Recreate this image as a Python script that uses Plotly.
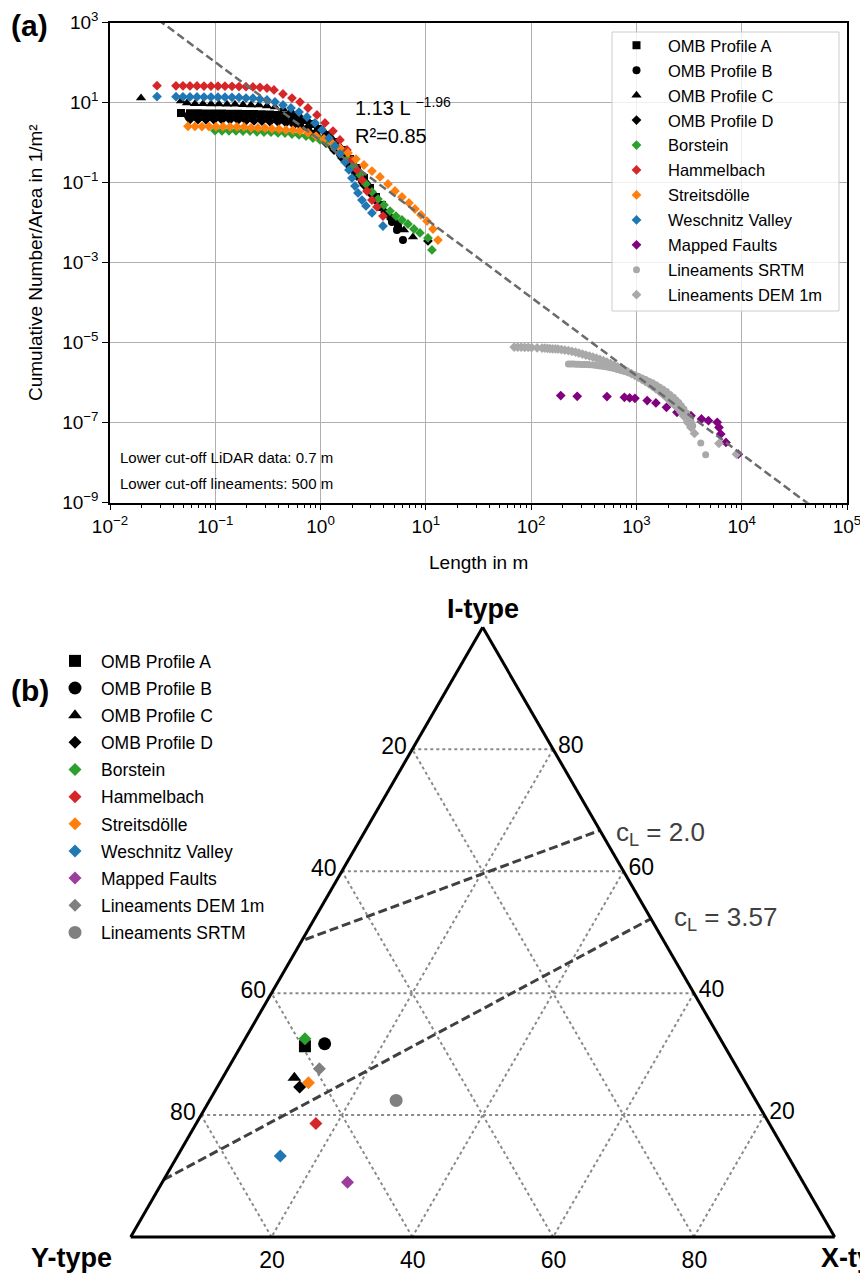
import plotly.graph_objects as go

# The page body adds an 8 px offset, so the figure is drawn 8 px smaller and
# every layout position below is given in window pixels minus that offset.
OFF = 8
W, H = 868 - OFF, 1284 - OFF
FONT = "Liberation Sans, Arial, Helvetica, sans-serif"


def px(x):
    return (x - OFF) / W


def py(y):
    return 1 - (y - OFF) / H


# ---------------- panel (a): cumulative number / area vs length ----------------
OMB_A_L = [0.04723, 0.05750, 0.06850, 0.08159, 0.09721, 0.1158, 0.1379, 0.1643, 0.1957, 0.2331,
           0.2776, 0.3307, 0.3939, 0.4692, 0.5590, 0.6660, 0.7931, 0.9447, 1.125, 1.341,
           1.597, 1.902, 2.217, 2.584, 2.945, 3.359, 3.830, 4.368, 4.872, 5.433]
OMB_A_N = [5.53, 5.45, 5.42, 5.40, 5.37, 5.34, 5.31, 5.28, 5.25, 5.22,
           5.15, 5.08, 4.95, 4.80, 4.39, 3.69, 2.93, 2.20, 1.56, 1.04,
           0.657, 0.391, 0.233, 0.131, 0.0737, 0.0439, 0.0277, 0.0175, 0.0117, 0.00781]

OMB_B_L = [0.05504, 0.06556, 0.07810, 0.09305, 0.1108, 0.1320, 0.1573, 0.1874, 0.2231, 0.2658,
           0.3166, 0.3771, 0.4492, 0.5351, 0.6375, 0.7594, 0.9042, 1.077, 1.283, 1.528,
           1.821, 2.122, 2.473, 2.819, 3.216, 3.666, 4.179, 4.766, 5.315, 6.061]
OMB_B_N = [4.75, 4.72, 4.69, 4.66, 4.63, 4.60, 4.57, 4.45, 4.41, 4.37,
           4.20, 4.12, 3.91, 3.49, 2.93, 2.33, 1.75, 1.24, 0.827, 0.522,
           0.311, 0.185, 0.110, 0.0657, 0.0391, 0.0247, 0.0165, 0.0104, 0.00657, 0.00369]

OMB_C_L = [0.01970, 0.04723, 0.05385, 0.06414, 0.07640, 0.09104, 0.1084, 0.1292, 0.1539, 0.1833,
           0.2183, 0.2600, 0.3097, 0.3690, 0.4394, 0.5235, 0.6236, 0.7430, 0.8846, 1.054,
           1.255, 1.495, 1.781, 2.076, 2.420, 2.819, 3.287, 3.830, 4.464, 5.200, 6.194, 7.543]
OMB_C_N = [13.11, 11.03, 9.83, 9.40, 9.35, 9.30, 9.25, 9.20, 9.15, 8.85,
           8.78, 8.70, 8.27, 7.81, 6.96, 6.20, 4.93, 3.91, 2.93, 2.08,
           1.39, 0.876, 0.493, 0.293, 0.165, 0.0928, 0.0493, 0.0277, 0.0165, 0.0104, 0.00657, 0.00439]

OMB_D_L = [0.05750, 0.06850, 0.08159, 0.09721, 0.1158, 0.1379, 0.1643, 0.1957, 0.2331, 0.2776,
           0.3307, 0.3939, 0.4692, 0.5590, 0.6660, 0.7931, 0.9447, 1.125, 1.341, 1.597,
           1.902, 2.217, 2.584, 3.010, 3.509, 4.089, 4.664, 5.433, 10.47]
OMB_D_N = [3.78, 3.76, 3.74, 3.72, 3.70, 3.68, 3.66, 3.52, 3.49, 3.46,
           3.32, 3.27, 3.11, 2.77, 2.33, 1.85, 1.39, 0.983, 0.657, 0.415,
           0.247, 0.147, 0.0876, 0.0522, 0.0311, 0.0185, 0.0124, 0.00737, 0.00349]

BORSTEIN_L = [0.09936, 0.1158, 0.1349, 0.1573, 0.1833, 0.2136, 0.2489, 0.2901, 0.3381, 0.3939,
              0.4591, 0.5351, 0.6236, 0.7269, 0.8470, 0.9870, 1.150, 1.341, 1.562, 1.821,
              2.076, 2.367, 2.699, 3.077, 3.509, 4.000, 4.563, 5.200, 5.929, 6.761,
              7.709, 8.790, 10.47, 11.43]
BORSTEIN_N = [2.00, 1.99, 1.98, 1.97, 1.96, 1.95, 1.87, 1.85, 1.83, 1.76,
              1.74, 1.65, 1.56, 1.47, 1.31, 1.17, 0.983, 0.781, 0.585, 0.391,
              0.262, 0.156, 0.0928, 0.0586, 0.0391, 0.0277, 0.0196, 0.0147, 0.0117, 0.00928,
              0.00696, 0.00553, 0.00415, 0.00208]

HAMMELBACH_L = [0.02795, 0.04234, 0.04934, 0.05750, 0.06701, 0.07810, 0.09104, 0.1061, 0.1236, 0.1441,
                0.1679, 0.1957, 0.2280, 0.2658, 0.3097, 0.3610, 0.4394, 0.5351, 0.6375, 0.7594,
                0.9243, 1.101, 1.312, 1.528, 1.781, 1.987, 2.217, 2.473, 2.758, 3.077,
                3.433, 3.915]
HAMMELBACH_N = [26.6, 26.5, 26.4, 26.3, 26.2, 26.1, 26.0, 25.9, 25.8, 25.6,
                25.4, 25.2, 24.7, 24.3, 23.3, 20.8, 16.5, 13.1, 10.4, 7.37,
                4.93, 3.11, 1.96, 1.17, 0.657, 0.369, 0.208, 0.117, 0.0620, 0.0369,
                0.0247, 0.0147]

STREITS_L = [0.05504, 0.06414, 0.07475, 0.08712, 0.1015, 0.1183, 0.1379, 0.1607, 0.1874, 0.2183,
             0.2544, 0.2965, 0.3455, 0.4026, 0.4692, 0.5469, 0.6375, 0.7594, 0.9042, 1.077,
             1.283, 1.528, 1.821, 2.169, 2.584, 3.077, 3.666, 4.368, 5.089, 5.929,
             6.910, 7.880, 8.984, 10.24, 11.68, 13.03]
STREITS_N = [2.56, 2.55, 2.54, 2.53, 2.52, 2.51, 2.50, 2.49, 2.48, 2.36,
             2.34, 2.32, 2.22, 2.19, 2.09, 2.07, 1.96, 1.75, 1.47, 1.24,
             0.983, 0.737, 0.553, 0.391, 0.277, 0.196, 0.139, 0.0928, 0.0620, 0.0439,
             0.0311, 0.0220, 0.0156, 0.0110, 0.00696, 0.00369]

WESCHNITZ_L = [0.02795, 0.04234, 0.04934, 0.05750, 0.06701, 0.07810, 0.09104, 0.1061, 0.1236, 0.1441,
               0.1679, 0.1957, 0.2280, 0.2658, 0.3097, 0.3690, 0.4394, 0.5235, 0.6236, 0.7430,
               0.8846, 1.031, 1.202, 1.370, 1.528, 1.705, 1.861, 1.987, 2.122, 2.266,
               2.473, 2.699, 3.077, 3.915]
WESCHNITZ_N = [14.2, 14.1, 14.0, 13.95, 13.9, 13.85, 13.8, 13.75, 13.7, 13.6,
               13.5, 13.1, 13.0, 12.37, 11.68, 10.41, 8.76, 7.37, 5.85, 4.39,
               3.11, 2.08, 1.31, 0.827, 0.522, 0.329, 0.208, 0.131, 0.0827, 0.0553,
               0.0369, 0.0262, 0.0175, 0.00827]

FAULTS_L = [191, 274, 525, 769, 863, 968, 1266, 1532, 1928, 2426,
            3296, 4149, 4833, 5851, 6081, 6321, 7087, 9268]
FAULTS_N = [4.76e-7, 4.58e-7, 4.50e-7, 4.32e-7, 4.16e-7, 4.08e-7, 3.57e-7, 3.12e-7, 2.43e-7, 1.82e-7,
            1.50e-7, 1.24e-7, 1.12e-7, 1.02e-7, 7.63e-8, 5.19e-8, 3.21e-8, 1.63e-8]

SRTM_L = [226, 240, 254, 269, 284, 301, 319, 338, 358, 387, 417, 450, 486, 525, 566, 612, 660,
          712, 769, 831, 897, 968, 1045, 1128, 1218, 1315, 1420, 1532, 1654, 1786, 1928, 2081,
          2247, 2380, 2520, 2670, 2828, 3000, 3172, 3300, 3424, 4083, 4545]
SRTM_N = [2.95e-6, 2.93e-6, 2.92e-6, 2.90e-6, 2.89e-6, 2.87e-6, 2.86e-6, 2.84e-6, 2.82e-6, 2.76e-6,
          2.70e-6, 2.63e-6, 2.55e-6, 2.46e-6, 2.36e-6, 2.25e-6, 2.14e-6, 2.02e-6, 1.91e-6, 1.79e-6,
          1.67e-6, 1.55e-6, 1.43e-6, 1.31e-6, 1.20e-6, 1.09e-6, 9.90e-7, 8.85e-7, 7.86e-7, 6.90e-7,
          6.00e-7, 5.10e-7, 4.33e-7, 3.72e-7, 3.18e-7, 2.65e-7, 2.20e-7, 1.75e-7, 1.36e-7, 1.08e-7,
          8.41e-8, 3.09e-8, 1.57e-8]

DEM_L = [69.0, 74.5, 80.4, 86.8, 93.7, 101, 114, 127, 135, 143, 151, 160, 170,
         180, 194, 209, 226, 244, 264, 284, 307, 331, 358, 386, 417, 450, 486, 525, 567, 612, 661, 713,
         770, 831, 898, 968, 1045, 1128, 1218, 1315, 1420, 1532, 1655, 1786, 1895, 2004, 2120, 2247,
         2380, 2520, 2670, 2828, 3052, 3296, 3557, 6080, 8916]
DEM_N = [7.80e-6, 7.75e-6, 7.70e-6, 7.65e-6, 7.60e-6, 7.55e-6, 7.45e-6, 7.35e-6, 7.28e-6, 7.20e-6,
         7.12e-6, 7.05e-6, 7.00e-6,
         6.94e-6, 6.75e-6, 6.54e-6, 6.30e-6, 6.06e-6, 5.78e-6, 5.50e-6, 5.20e-6, 4.90e-6, 4.63e-6,
         4.37e-6, 4.09e-6, 3.82e-6, 3.54e-6, 3.27e-6, 3.00e-6, 2.75e-6, 2.50e-6, 2.27e-6,
         2.06e-6, 1.87e-6, 1.68e-6, 1.51e-6, 1.35e-6, 1.20e-6, 1.06e-6, 9.35e-7, 8.10e-7, 7.00e-7,
         6.00e-7, 5.14e-7, 4.50e-7, 3.93e-7, 3.40e-7, 2.94e-7,
         2.55e-7, 2.20e-7, 1.80e-7, 1.44e-7, 1.02e-7, 7.63e-8, 5.40e-8, 3.03e-8, 1.63e-8]

# power-law fit N = 1.13 * L^-1.96
FIT_COEF = 1.13
FIT_EXP = -1.96
FIT_L = [0.01, 1.0e5]

X_TICK_EXP = list(range(-2, 6))
Y_TICK_EXP = list(range(-9, 4, 2))

# ---------------- panel (b): ternary node proportions (percent) ----------------
TERN_NAMES = ["OMB Profile A", "OMB Profile B", "OMB Profile C", "OMB Profile D", "Borstein",
              "Hammelbach", "Streitsdölle", "Weschnitz Valley", "Mapped Faults",
              "Lineaments DEM 1m", "Lineaments SRTM"]
TERN_I = [31.3, 31.7, 26.1, 24.6, 32.5, 18.6, 25.3, 13.3, 9.0, 27.6, 22.4]
TERN_Y = [59.6, 56.6, 63.7, 63.7, 59.0, 64.4, 62.1, 72.1, 64.7, 59.4, 51.1]
TERN_X = [9.1, 11.7, 10.2, 11.7, 8.5, 17.0, 12.6, 14.6, 26.3, 13.0, 26.5]

CL20_I = [48.8, 66.7]
CL20_Y = [50.8, 0.0]
CL20_X = [0.4, 33.3]
CL357_I = [9.4, 52.2]
CL357_Y = [90.6, 0.0]
CL357_X = [0.0, 47.8]

TERN_TICKS = [20, 40, 60, 80]

# ---------------- styles ----------------
STYLE_A = {
    "OMB Profile A": ("square", "black", 8),
    "OMB Profile B": ("circle", "black", 8),
    "OMB Profile C": ("triangle-up", "black", 9),
    "OMB Profile D": ("diamond", "black", 7.5),
    "Borstein": ("diamond", "#2ca02c", 7.5),
    "Hammelbach": ("diamond", "#d62728", 7.5),
    "Streitsdölle": ("diamond", "#ff7f0e", 7.5),
    "Weschnitz Valley": ("diamond", "#1f77b4", 7.5),
    "Mapped Faults": ("diamond", "#800080", 7.5),
    "Lineaments SRTM": ("circle", "#a9a9a9", 7),
    "Lineaments DEM 1m": ("diamond", "#a9a9a9", 7.5),
}
STYLE_B = {
    "OMB Profile A": ("square", "black", 12),
    "OMB Profile B": ("circle", "black", 13),
    "OMB Profile C": ("triangle-up", "black", 12),
    "OMB Profile D": ("diamond", "black", 10),
    "Borstein": ("diamond", "#2ca02c", 10),
    "Hammelbach": ("diamond", "#d62728", 10),
    "Streitsdölle": ("diamond", "#ff7f0e", 10),
    "Weschnitz Valley": ("diamond", "#1f77b4", 10),
    "Mapped Faults": ("diamond", "#9c3d9c", 10),
    "Lineaments DEM 1m": ("diamond", "#808080", 10),
    "Lineaments SRTM": ("circle", "#808080", 13),
}

SERIES_A = [
    ("OMB Profile A", OMB_A_L, OMB_A_N),
    ("OMB Profile B", OMB_B_L, OMB_B_N),
    ("OMB Profile C", OMB_C_L, OMB_C_N),
    ("OMB Profile D", OMB_D_L, OMB_D_N),
    ("Borstein", BORSTEIN_L, BORSTEIN_N),
    ("Hammelbach", HAMMELBACH_L, HAMMELBACH_N),
    ("Streitsdölle", STREITS_L, STREITS_N),
    ("Weschnitz Valley", WESCHNITZ_L, WESCHNITZ_N),
    ("Mapped Faults", FAULTS_L, FAULTS_N),
    ("Lineaments SRTM", SRTM_L, SRTM_N),
    ("Lineaments DEM 1m", DEM_L, DEM_N),
]

fig = go.Figure()

for k, (name, L, N) in enumerate(SERIES_A):
    sym, col, size = STYLE_A[name]
    fig.add_trace(go.Scatter(
        x=L, y=N, mode="markers", name=name,
        marker=dict(symbol=sym, color=col, size=size, line=dict(width=0)),
        xaxis="x", yaxis="y", legend="legend", legendgroup="a%d" % k,
    ))

fig.add_trace(go.Scatter(
    x=FIT_L, y=[FIT_COEF * l ** FIT_EXP for l in FIT_L], mode="lines",
    line=dict(color="#6b6b6b", width=2.5, dash="8px,4px"),
    showlegend=False, xaxis="x", yaxis="y", hoverinfo="skip",
))

# ternary reference lines
for I, Y, X in [(CL20_I, CL20_Y, CL20_X), (CL357_I, CL357_Y, CL357_X)]:
    fig.add_trace(go.Scatterternary(
        a=I, b=Y, c=X, mode="lines",
        line=dict(color="#404040", width=3, dash="9px,4px"),
        showlegend=False, subplot="ternary", hoverinfo="skip",
    ))

for k, name in enumerate(TERN_NAMES):
    sym, col, size = STYLE_B[name]
    fig.add_trace(go.Scatterternary(
        a=[TERN_I[k]], b=[TERN_Y[k]], c=[TERN_X[k]], mode="markers", name=name,
        marker=dict(symbol=sym, color=col, size=size, line=dict(width=0)),
        subplot="ternary", legend="legend2", legendgroup="t%d" % k,
    ))

minor_vals = [m * 10.0 ** e for e in range(-2, 5) for m in range(2, 10)]


def pow_label(e):
    return "10<sup>%s</sup>" % (("−%d" % -e) if e < 0 else str(e))


tern_axis = dict(
    tickmode="array", tickvals=TERN_TICKS, ticktext=[str(100 - t) for t in TERN_TICKS],
    showline=True, linecolor="black", linewidth=3,
    showgrid=True, gridcolor="#8a8a8a", gridwidth=1.5, griddash="dot",
    ticks="outside", ticklen=1, tickcolor="rgba(0,0,0,0)",
    tickfont=dict(size=23, color="black", family=FONT),
    title=dict(text=""), min=0,
)

ann = []


def add_text(x, y, text, size, xanchor="left", yanchor="middle", color="black", textangle=0):
    ann.append(dict(x=px(x), y=py(y), xref="paper", yref="paper", text=text, showarrow=False,
                    xanchor=xanchor, yanchor=yanchor, textangle=textangle,
                    font=dict(size=size, color=color, family=FONT)))


add_text(9, 25, "<b>(a)</b>", 30)
add_text(9, 690, "<b>(b)</b>", 30)
add_text(353, 106, "1.13 L <sup>−1.96</sup>", 20)
add_text(353, 136, "R²=0.85", 20)
add_text(118, 457, "Lower cut-off LiDAR data: 0.7 m", 15)
add_text(118, 483, "Lower cut-off lineaments: 500 m", 15)
add_text(478, 562, "Length in m", 19, xanchor="center")
add_text(36, 263, "Cumulative Number/Area in 1/m²", 19, xanchor="center", textangle=-90)
add_text(483, 609, "<b>I-type</b>", 27, xanchor="center")
add_text(71, 1258, "<b>Y-type</b>", 27, xanchor="center")
add_text(819, 1258, "<b>X-type</b>", 27, xanchor="left")
add_text(614, 833, "c<sub>L</sub> = 2.0", 26, color="#404040")
add_text(672, 918, "c<sub>L</sub> = 3.57", 26, color="#404040")

TRI_LEFT, TRI_RIGHT, TRI_BASE = 130.7, 834.7, 1237.0
TRI_TOP = TRI_BASE - (TRI_RIGHT - TRI_LEFT) * 3 ** 0.5 / 2

fig.update_layout(
    width=W, height=H, margin=dict(l=0, r=0, t=0, b=0, pad=0, autoexpand=False),
    paper_bgcolor="white", plot_bgcolor="white",
    font=dict(family=FONT, color="black"),
    xaxis=dict(
        type="log", range=[-2, 5], domain=[px(110), px(847)],
        tickmode="array", tickvals=[10.0 ** e for e in X_TICK_EXP],
        ticktext=[pow_label(e) for e in X_TICK_EXP],
        showgrid=True, gridcolor="#b0b0b0", gridwidth=1,
        showline=True, linecolor="black", linewidth=1.5, mirror=True,
        ticks="outside", ticklen=6, tickwidth=1.2, tickcolor="black",
        tickfont=dict(size=19), zeroline=False, automargin=False,
        minor=dict(tickvals=minor_vals, ticks="outside", ticklen=3.5, tickwidth=1,
                   tickcolor="black", showgrid=False),
    ),
    yaxis=dict(
        type="log", range=[-9, 3], domain=[py(502.7), py(22.7)],
        tickmode="array", tickvals=[10.0 ** e for e in Y_TICK_EXP],
        ticktext=[pow_label(e) for e in Y_TICK_EXP],
        showgrid=True, gridcolor="#b0b0b0", gridwidth=1,
        showline=True, linecolor="black", linewidth=1.5, mirror=True,
        ticks="outside", ticklen=6, tickwidth=1.2, tickcolor="black",
        tickfont=dict(size=19), zeroline=False, automargin=False,
    ),
    ternary=dict(
        domain=dict(x=[px(TRI_LEFT), px(TRI_RIGHT)], y=[py(TRI_BASE), py(TRI_TOP)]),
        sum=100, bgcolor="white",
        aaxis=tern_axis, baxis=tern_axis, caxis=tern_axis,
    ),
    legend=dict(
        x=px(605), y=py(28), xanchor="left", yanchor="top",
        bgcolor="rgba(0,0,0,0)", borderwidth=0, itemwidth=53,
        tracegroupgap=0.5,
        font=dict(size=16.5, color="black", family=FONT),
    ),
    legend2=dict(
        x=px(49), y=py(643), xanchor="left", yanchor="top",
        bgcolor="rgba(0,0,0,0)", borderwidth=0, itemwidth=42,
        tracegroupgap=1.4,
        font=dict(size=17.5, color="black", family=FONT),
    ),
    shapes=[dict(type="rect", xref="paper", yref="paper",
                 x0=px(612), x1=px(839), y0=py(311), y1=py(32),
                 line=dict(color="#cccccc", width=1),
                 fillcolor="rgba(255,255,255,0.8)", layer="above")],
    annotations=ann,
    showlegend=True,
)

fig.write_html("out.html")
